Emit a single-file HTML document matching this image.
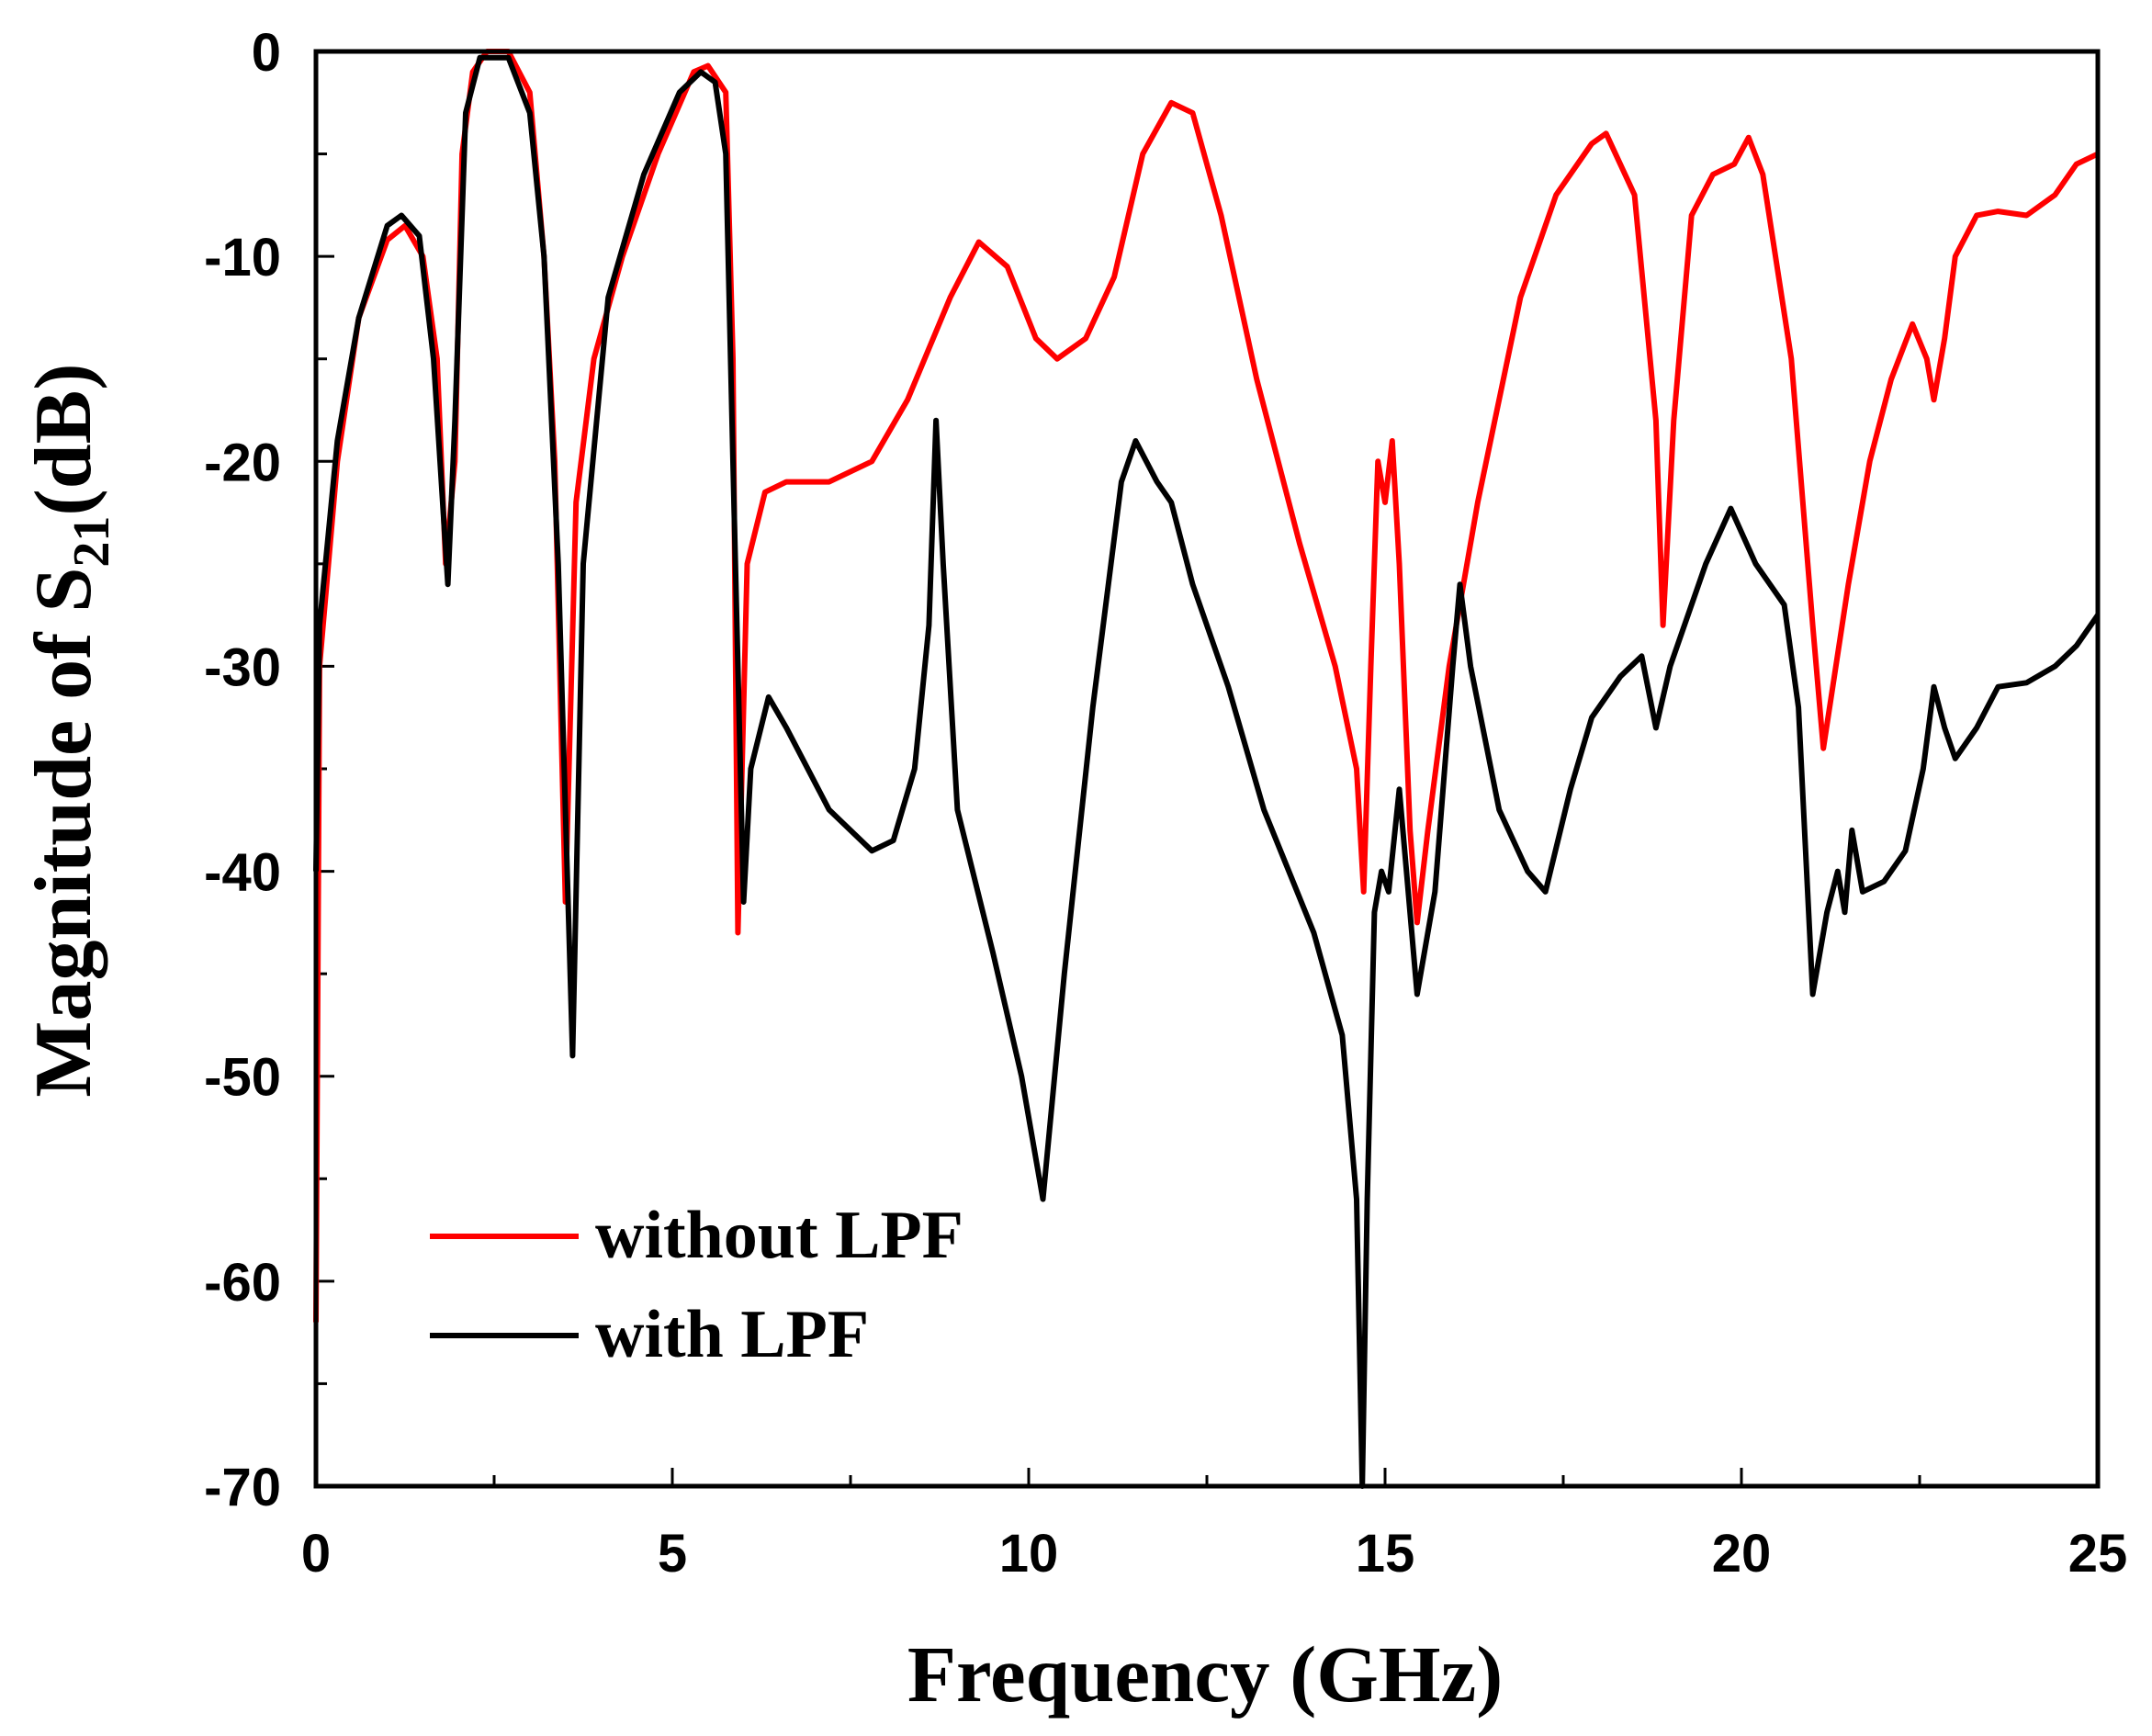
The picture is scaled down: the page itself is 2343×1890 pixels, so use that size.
<!DOCTYPE html>
<html><head><meta charset="utf-8"><style>
html,body{margin:0;padding:0;background:#fff;}
svg{display:block;}
</style></head><body>
<svg id="chart" width="2343" height="1890" viewBox="0 0 2343 1890" xmlns="http://www.w3.org/2000/svg">
<g id="ticks"></g>
<g id="series"></g>
<rect x="344" y="56" width="1940" height="1562" fill="none" stroke="#000" stroke-width="5"/>
<text x="1312" y="1852" text-anchor="middle" font-family="Liberation Serif, serif" font-weight="bold" font-size="87">Frequency (GHz)</text>
<text transform="translate(98,795) rotate(-90)" text-anchor="middle" font-family="Liberation Serif, serif" font-weight="bold" font-size="88">Magnitude of S<tspan font-size="56" dy="20">21</tspan><tspan dy="-20">(dB)</tspan></text>
<g>
<line x1="468" y1="1346" x2="630" y2="1346" stroke="#ff0000" stroke-width="6"/>
<text x="648" y="1369" font-family="Liberation Serif, serif" font-weight="bold" font-size="74">without LPF</text>
<line x1="468" y1="1454" x2="630" y2="1454" stroke="#000" stroke-width="6"/>
<text x="648" y="1477" font-family="Liberation Serif, serif" font-weight="bold" font-size="74">with LPF</text>
</g>
</svg>
<script>
const xTicks=[0,5,10,15,20,25];
const yTicks=[0,-10,-20,-30,-40,-50,-60,-70];
const redF=[0,0.05,0.3,0.6,1.0,1.25,1.5,1.7,1.82,1.95,2.05,2.2,2.4,2.7,3.0,3.2,3.35,3.5,3.65,3.9,4.3,4.8,5.3,5.5,5.75,5.85,5.92,6.05,6.3,6.6,7.2,7.8,8.3,8.9,9.3,9.7,10.1,10.4,10.8,11.2,11.6,12.0,12.3,12.7,13.2,13.8,14.3,14.6,14.7,14.8,14.9,15.0,15.1,15.2,15.35,15.45,15.6,15.9,16.3,16.9,17.4,17.9,18.1,18.5,18.8,18.9,19.05,19.3,19.6,19.9,20.1,20.3,20.7,21.0,21.15,21.5,21.8,22.1,22.4,22.6,22.7,22.85,23.0,23.3,23.6,24.0,24.4,24.7,25];
const redDb=[-62,-30,-20,-13,-9.2,-8.5,-10,-15,-25,-20,-5,-1,0,0,-2,-10,-20,-41.5,-22,-15,-10,-5,-1,-0.7,-2,-15,-43,-25,-21.5,-21,-21,-20,-17,-12,-9.3,-10.5,-14,-15,-14,-11,-5,-2.5,-3,-8,-16,-24,-30,-35,-41,-30,-20,-22,-19,-25,-38,-42.5,-38,-30,-22,-12,-7,-4.5,-4,-7,-18,-28,-18,-8,-6,-5.5,-4.2,-6,-15,-28,-34,-26,-20,-16,-13.3,-15,-17,-14,-10,-8,-7.8,-8,-7,-5.5,-5];
const blkF=[0,0.05,0.3,0.6,1.0,1.2,1.45,1.65,1.85,1.95,2.1,2.3,2.7,3.0,3.2,3.4,3.6,3.75,4.1,4.6,5.1,5.4,5.6,5.75,5.85,6.0,6.1,6.35,6.6,7.2,7.8,8.1,8.4,8.6,8.7,8.8,9.0,9.5,9.9,10.2,10.5,10.9,11.3,11.5,11.8,12.0,12.3,12.8,13.3,14.0,14.4,14.6,14.68,14.75,14.85,14.95,15.05,15.2,15.3,15.45,15.7,15.95,16.05,16.2,16.6,17.0,17.25,17.6,17.9,18.3,18.6,18.8,19.0,19.5,19.85,20.2,20.6,20.8,21.0,21.2,21.35,21.45,21.55,21.7,22.0,22.3,22.55,22.7,22.85,23.0,23.3,23.6,24.0,24.4,24.7,25];
const blkDb=[-40,-28,-19,-13,-8.5,-8,-9,-15,-26,-18,-3,-0.3,-0.3,-3,-10,-25,-49,-25,-12,-6,-2,-1,-1.5,-5,-20,-41.5,-35,-31.5,-33,-37,-39,-38.5,-35,-28,-18,-25,-37,-44,-50,-56,-45,-32,-21,-19,-21,-22,-26,-31,-37,-43,-48,-56,-70,-56,-42,-40,-41,-36,-40,-46,-41,-30,-26,-30,-37,-40,-41,-36,-32.5,-30.5,-29.5,-33,-30,-25,-22.3,-25,-27,-32,-46,-42,-40,-42,-38,-41,-40.5,-39,-35,-31,-33,-34.5,-33,-31,-30.8,-30,-29,-27.5];
const X0=344,X1=2284,Y0=56,Y1=1618;
function xs(f){return X0+(f/25)*(X1-X0);}
function ys(d){return Y0+(-d/70)*(Y1-Y0);}
const NS='http://www.w3.org/2000/svg';
const tg=document.getElementById('ticks');
for(let f=0;f<=25;f+=2.5){
  const major=(f%5===0);const L=major?20:12;
  const t=document.createElementNS(NS,'line');
  
  
  t.setAttribute('x1',xs(f));t.setAttribute('x2',xs(f));t.setAttribute('y1',Y1);t.setAttribute('y2',Y1-L);
  t.setAttribute('stroke','#000');t.setAttribute('stroke-width','3');tg.appendChild(t);
}
for(let d=0;d>=-70;d-=5){
  const major=(d%10===0);const L=major?20:12;
  const t=document.createElementNS(NS,'line');
  
  
  t.setAttribute('y1',ys(d));t.setAttribute('y2',ys(d));t.setAttribute('x1',X0);t.setAttribute('x2',X0+L);
  t.setAttribute('stroke','#000');t.setAttribute('stroke-width','3');tg.appendChild(t);
}
xTicks.forEach(v=>{
  const t=document.createElementNS(NS,'text');
  
  
  t.setAttribute('x',xs(v));t.setAttribute('y',1711);t.setAttribute('text-anchor','middle');
  t.setAttribute('font-family','Liberation Sans, sans-serif');t.setAttribute('font-weight','bold');t.setAttribute('font-size','58');
  t.textContent=v;tg.appendChild(t);
});
yTicks.forEach(v=>{
  const t=document.createElementNS(NS,'text');
  
  
  t.setAttribute('x',306);t.setAttribute('y',ys(v)+21);t.setAttribute('text-anchor','end');
  t.setAttribute('font-family','Liberation Sans, sans-serif');t.setAttribute('font-weight','bold');t.setAttribute('font-size','58');
  t.textContent=v;tg.appendChild(t);
});
const sg=document.getElementById('series');
function draw(F,D,color,name){
  const p=document.createElementNS(NS,'polyline');
  
  
  p.setAttribute('points',F.map((f,i)=>xs(f).toFixed(1)+','+ys(D[i]).toFixed(1)).join(' '));
  p.setAttribute('fill','none');p.setAttribute('stroke',color);p.setAttribute('stroke-width','6');
  p.setAttribute('stroke-linejoin','round');
  sg.appendChild(p);
}
draw(redF,redDb,'#ff0000','line-without-lpf');
draw(blkF,blkDb,'#000000','line-with-lpf');
</script>
</body></html>
